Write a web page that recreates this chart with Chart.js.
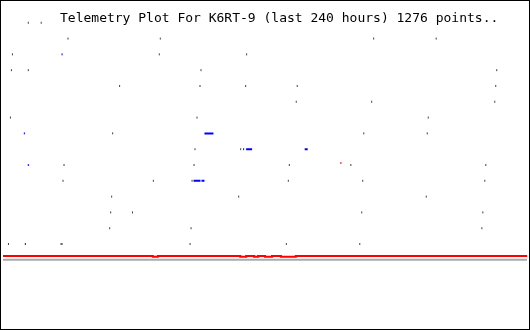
<!DOCTYPE html>
<html lang="en">

<head>
    <meta charset="UTF-8">
    <title>Telemetry Plot For K6RT-9</title>
    <script src="https://cdn.jsdelivr.net/npm/chart.js"></script>
    <style>
        body { margin: 0; background: #fff; }
        #wrap { position: relative; width: 528px; height: 328px; border: 1px solid #000; }
        #plotTitle {
            position: absolute; left: 59px; top: 9px;
            font-family: "DejaVu Sans Mono", monospace; font-size: 13px; line-height: 15px;
            color: #000; white-space: pre;
        }
    </style>
</head>

<body>
    <div id="wrap">
        <canvas id="telemetry" width="528" height="328"></canvas>
        <div id="plotTitle">Telemetry Plot For K6RT-9 (last 240 hours) 1276 points..</div>
    </div>

    <script>
        // time axis, hours
        const hourRange = [0, 240];
        const levelRange = [-4.25, 16.25];

        // channel samples (hour, level)
        const grayHours = [
            11.59, 17.5,
            29.77, 72.05, 169.77, 198.41,
            4.32, 71.59, 111.59,
            3.86, 11.59, 90.68, 226.14,
            53.41, 90.23, 111.14, 134.77, 225.68,
            134.32, 168.86, 225.23,
            3.41, 88.86, 194.77,
            50.23, 165.23, 194.32,
            87.95, 108.86,
            27.95, 87.5, 131.14, 159.32, 221.14,
            27.5, 68.86, 86.59, 130.68, 164.77, 220.68,
            49.77, 107.95, 193.86,
            49.32, 59.32, 164.32, 219.77,
            48.86, 86.14, 219.32,
            2.5, 26.59, 27.05, 85.68, 129.77, 163.41
        ];
        const grayLevels = [
            15, 15,
            14, 14, 14, 14,
            13, 13, 13,
            12, 12, 12, 12,
            11, 11, 11, 11, 11,
            10, 10, 10,
            9, 9, 9,
            8, 8, 8,
            7, 7,
            6, 6, 6, 6, 6,
            5, 5, 5, 5, 5, 5,
            4, 4, 4,
            3, 3, 3, 3,
            2, 2, 2,
            1, 1, 1, 1, 1, 1
        ];

        const blueHours = [27.05, 9.77, 110.23, 11.59, 10.23];
        const blueLevels = [13, 8, 7, 6, 1];

        // runs of consecutive blue samples
        const blueRunStart = [92.27, 111.36, 138.18, 87.27, 90.91];
        const blueRunEnd = [96.36, 114.09, 139.55, 90.45, 92.27];
        const blueRunLevel = [8, 7, 7, 5, 5];

        const alertHours = [154.77];
        const alertLevels = [6.125];

        // red trace
        const redHours = [0, 68.64, 70.91, 108.64, 111.36, 115, 116.82, 120, 123.18, 127.27, 134.09, 240];
        const redValues = [0.25, 0.1875, 0.25, 0.1875, 0.25, 0.1875, 0.25, 0.1875, 0.25, 0.1875, 0.25, 0.25];

        // baseline
        const baseHours = [0, 240];
        const baseValues = [0, 0];

        const pts = (xs, ys) => xs.map((x, i) => ({ x: x, y: ys[i] }));

        const runData = [];
        blueRunStart.forEach((s, i) => {
            runData.push({ x: s, y: blueRunLevel[i] });
            runData.push({ x: blueRunEnd[i], y: blueRunLevel[i] });
            runData.push({ x: blueRunEnd[i], y: null });
        });

        const dotStyle = color => ({
            showLine: false,
            pointStyle: 'line',
            pointRotation: 90,
            pointRadius: 1,
            pointBorderWidth: 1,
            pointBorderColor: color,
            pointBackgroundColor: color,
            pointHoverRadius: 1
        });

        new Chart(document.getElementById('telemetry'), {
            type: 'scatter',
            data: {
                datasets: [
                    Object.assign({ label: 'alert', data: pts(alertHours, alertLevels) }, dotStyle('#ff0000')),
                    Object.assign({ label: 'blue', data: pts(blueHours, blueLevels) }, dotStyle('#0000ff')),
                    {
                        label: 'blue runs', type: 'line', data: runData,
                        borderColor: '#0000ff', borderWidth: 2, pointRadius: 0, spanGaps: false, tension: 0
                    },
                    Object.assign({ label: 'gray', data: pts(grayHours, grayLevels) }, dotStyle('#404040')),
                    {
                        label: 'red', type: 'line', data: pts(redHours, redValues),
                        borderColor: '#ff0000', borderWidth: 2, pointRadius: 0, stepped: true
                    },
                    {
                        label: 'base', type: 'line', data: pts(baseHours, baseValues),
                        borderColor: '#aaaaaa', borderWidth: 2, pointRadius: 0
                    }
                ]
            },
            options: {
                responsive: false,
                animation: false,
                events: [],
                layout: { padding: 0 },
                plugins: {
                    legend: { display: false },
                    title: { display: false },
                    tooltip: { enabled: false }
                },
                scales: {
                    x: { type: 'linear', min: hourRange[0], max: hourRange[1], display: false },
                    y: { type: 'linear', min: levelRange[0], max: levelRange[1], display: false }
                }
            }
        });
    </script>
</body>

</html>
